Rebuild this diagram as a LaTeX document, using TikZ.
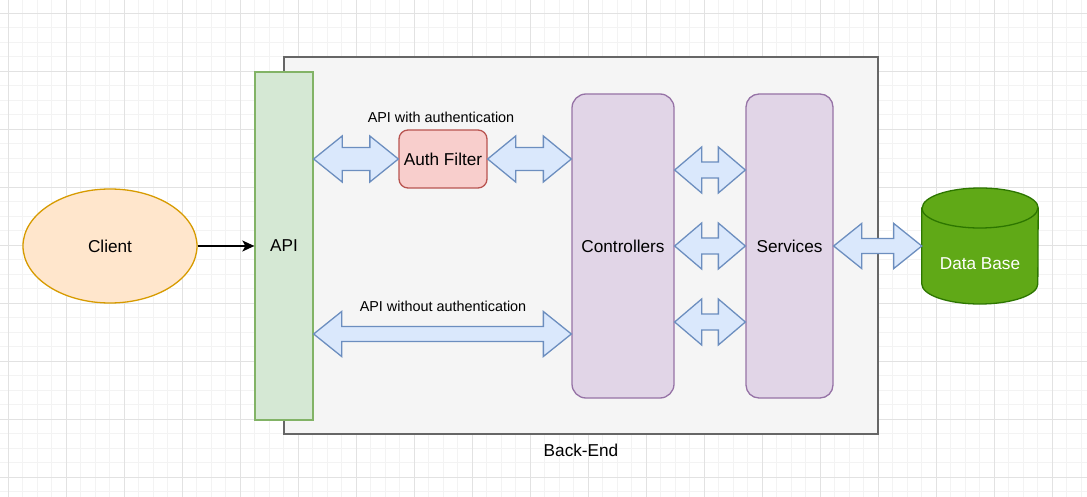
\documentclass[tikz,border=0pt]{standalone}
\usepackage{fontspec}
\setmainfont{Liberation Sans}
\usetikzlibrary{shapes.geometric,arrows.meta,calc}
\definecolor{gridminor}{HTML}{F3F3F3}
\definecolor{gridmajor}{HTML}{E2E2E2}
\definecolor{befill}{HTML}{F5F5F5}
\definecolor{bestroke}{HTML}{666666}
\definecolor{greenfill}{HTML}{D5E8D4}
\definecolor{greenstroke}{HTML}{82B366}
\definecolor{orangefill}{HTML}{FFE6CC}
\definecolor{orangestroke}{HTML}{D79B00}
\definecolor{redfill}{HTML}{F8CECC}
\definecolor{redstroke}{HTML}{B85450}
\definecolor{purplefill}{HTML}{E1D5E7}
\definecolor{purplestroke}{HTML}{9673A6}
\definecolor{bluefill}{HTML}{DAE8FC}
\definecolor{bluestroke}{HTML}{6C8EBF}
\definecolor{dbfill}{HTML}{60A917}
\definecolor{dbstroke}{HTML}{2D7600}
\tikzset{
  lbl/.style={font=\fontsize{17.2}{20}\selectfont},
  smalllbl/.style={font=\fontsize{14.4}{17}\selectfont},
  boxbase/.style={draw, line width=1.3pt, inner sep=0pt, lbl},
  greenbox/.style={boxbase, fill=greenfill, draw=greenstroke},
  purplebox/.style={boxbase, fill=purplefill, draw=purplestroke, rounded corners=14pt},
  redbox/.style={boxbase, fill=redfill, draw=redstroke, rounded corners=9pt},
  barrow/.style={fill=bluefill, draw=bluestroke, line width=1.3pt, line join=miter},
  minorgrid/.style={draw=gridminor, line width=0.9pt},
  majorgrid/.style={draw=gridmajor, line width=1pt},
}
\newcommand{\blockarrow}[5]{%
  \draw[barrow] let \p1=(#1), \p2=(#2) in
   (\x1,\y1) -- (\x1+#5,\y1+#4) -- (\x1+#5,\y1+#3) -- (\x2-#5,\y1+#3) -- (\x2-#5,\y1+#4) -- (\x2,\y1)
   -- (\x2-#5,\y1-#4) -- (\x2-#5,\y1-#3) -- (\x1+#5,\y1-#3) -- (\x1+#5,\y1-#4) -- cycle;}
\begin{document}
\begin{tikzpicture}[x=1pt,y=-1pt]
\useasboundingbox (0,0) rectangle (1087,497);
\clip (0,0) rectangle (1087,497);
\fill[white] (0,0) rectangle (1087,497);
% grid
\foreach \i in {0,...,75} \draw[minorgrid] ({8.3+14.5*\i},0) -- ++(0,497);
\foreach \i in {0,...,34} \draw[minorgrid] (0,{13.3+14.5*\i}) -- ++(1087,0);
\foreach \i in {0,...,18} \draw[majorgrid] ({8.3+58*\i},0) -- ++(0,497);
\foreach \i in {0,...,8} \draw[majorgrid] (0,{13.3+58*\i}) -- ++(1087,0);

% back-end container
\node[draw=bestroke, fill=befill, line width=1.3pt, minimum width=594pt, minimum height=377pt, inner sep=0pt] (be) at (581,245.5) {};
\node[lbl] (belbl) at (581,450) {Back-End};

% API bar
\node[greenbox, minimum width=58pt, minimum height=348pt] (api) at (284,246) {API};

% client
\node[ellipse, boxbase, fill=orangefill, draw=orangestroke, minimum width=174pt, minimum height=114pt] (client) at (110,246) {Client};
\draw[line width=1.4pt, -{Stealth[length=12pt,width=11pt,inset=3pt]}] (client.east) -- (api.west);

% auth filter
\node[redbox, minimum width=88pt, minimum height=58pt] (auth) at (443,159) {Auth Filter};
\node[smalllbl] (withlbl) at (441,117) {API with authentication};

% controllers and services
\node[purplebox, minimum width=102pt, minimum height=304pt] (ctrl) at (623,246) {Controllers};
\node[purplebox, rounded corners=13pt, minimum width=87pt, minimum height=304pt] (svc) at (789.5,246) {Services};

% database
\node[inner sep=0pt, minimum width=116pt, minimum height=116pt] (db) at (980,246) {};
\draw[fill=dbfill, draw=dbstroke, line width=1.3pt]
  ([yshift=38pt]db.west) -- ([yshift=-38pt]db.west)
  arc[start angle=180, end angle=360, x radius=58pt, y radius=20pt]
  -- ([yshift=38pt]db.east)
  arc[start angle=0, end angle=180, x radius=58pt, y radius=20pt] -- cycle;
\draw[draw=dbstroke, line width=1.3pt]
  ([yshift=38pt]db.west) arc[start angle=180, end angle=360, x radius=58pt, y radius=20pt];
\node[lbl, text=white] (dblbl) at (980,264) {Data Base};

% block arrows
\blockarrow{api.east |- auth.west}{auth.west}{11.5}{23}{28.5}
\blockarrow{auth.east}{ctrl.west |- auth.east}{11.5}{23}{28}
\blockarrow{[yshift=76pt]ctrl.east}{[yshift=76pt]svc.west}{8}{23}{27}
\blockarrow{ctrl.east}{svc.west}{8}{23}{27}
\blockarrow{[yshift=-76pt]ctrl.east}{[yshift=-76pt]svc.west}{8}{23}{27}
\blockarrow{svc.east}{db.west}{7.5}{22.5}{28}
\blockarrow{[yshift=-88pt]api.east}{[yshift=-88pt]ctrl.west}{7.5}{22.5}{28}
\node[smalllbl] (withoutlbl) at (443,306) {API without authentication};
\end{tikzpicture}
\end{document}
